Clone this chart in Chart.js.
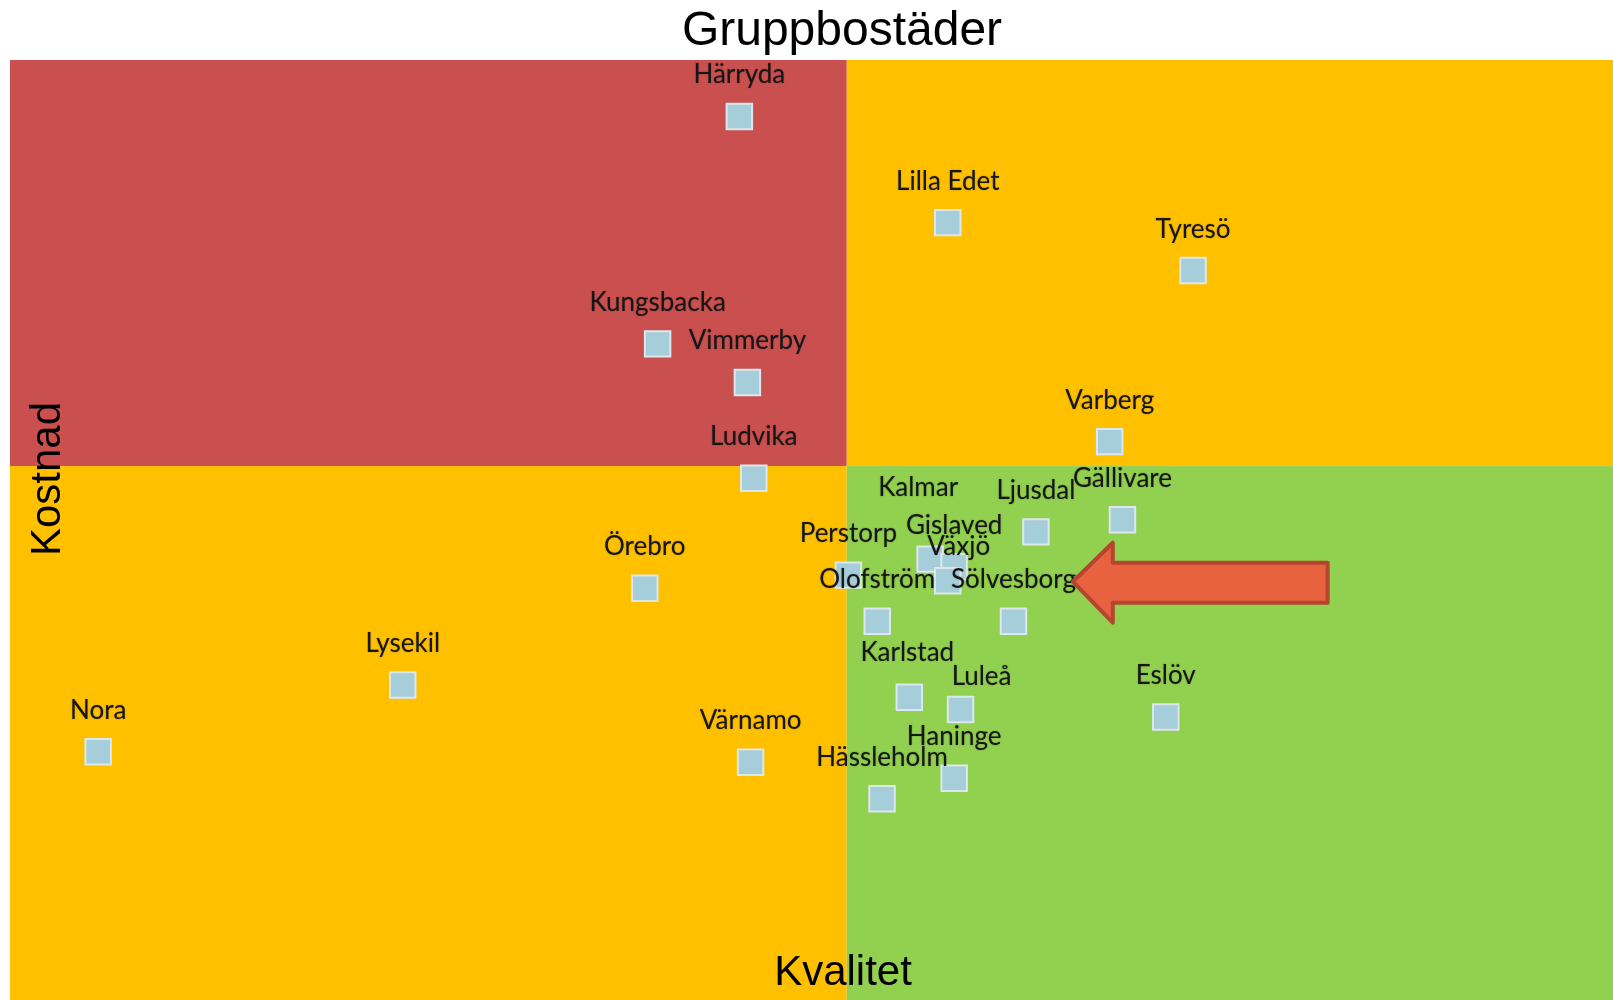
<!DOCTYPE html>
<html>
<head>
<meta charset="utf-8">
<title>Gruppbostäder</title>
<script src="https://cdn.jsdelivr.net/npm/chart.js@4.4.0/dist/chart.umd.min.js"></script>
<style>
  html, body { margin: 0; padding: 0; background: #fff; }
  #wrap { width: 1613px; height: 1000px; }
</style>
</head>
<body>
<div id="wrap"><canvas id="chart" width="1613" height="1000"></canvas></div>
<script>
  // kommuner, kvalitet (x) och kostnad (y)
  const cities = ['Härryda', 'Lilla Edet', 'Tyresö', 'Kungsbacka', 'Vimmerby', 'Varberg', 'Ludvika',
    'Gällivare', 'Ljusdal', 'Kalmar', 'Gislaved', 'Växjö', 'Perstorp', 'Olofström', 'Sölvesborg',
    'Örebro', 'Lysekil', 'Nora', 'Karlstad', 'Luleå', 'Eslöv', 'Värnamo', 'Haninge', 'Hässleholm'];
  const quality = [45.5, 58.5, 73.8, 40.4, 46.0, 68.6, 46.4,
    69.4, 64.0, 57.4, 58.9, 58.5, 52.3, 54.1, 62.6,
    39.6, 24.5, 5.5, 56.1, 59.3, 72.1, 46.2, 58.9, 54.4];
  const cost = [94.0, 82.7, 77.6, 69.8, 65.7, 59.4, 55.5,
    51.1, 49.8, 46.9, 46.1, 44.6, 45.2, 40.3, 40.3,
    43.8, 33.5, 26.4, 32.2, 30.9, 30.1, 25.3, 23.6, 21.4];

  // where the quadrants meet
  const qualityMid = 52.2;
  const costMid = 56.8;

  // arrow pointing at Sölvesborg (tip and tail in data units)
  const arrowTip = { x: 66.3, y: 44.5 };
  const arrowTailX = 82.2;

  // a few labels were nudged by hand in the crowded middle
  const labelShift = {
    'Kalmar': [-12, -30],
    'Växjö': [11, 7],
    'Luleå': [21, 8],
    'Karlstad': [-2, -3]
  };

  const quadrantPlugin = {
    id: 'quadrants',
    beforeDatasetsDraw(chart) {
      const { ctx, chartArea: a, scales: { x, y } } = chart;
      const mx = x.getPixelForValue(qualityMid);
      const my = y.getPixelForValue(costMid);
      ctx.save();
      ctx.fillStyle = '#C9504F';
      ctx.fillRect(a.left, a.top, mx - a.left, my - a.top);
      ctx.fillStyle = '#FFC000';
      ctx.fillRect(mx, a.top, a.right - mx, my - a.top);
      ctx.fillRect(a.left, my, mx - a.left, a.bottom - my);
      ctx.fillStyle = '#92D050';
      ctx.fillRect(mx, my, a.right - mx, a.bottom - my);
      ctx.restore();
    }
  };

  const labelPlugin = {
    id: 'cityLabels',
    afterDatasetsDraw(chart) {
      const { ctx } = chart;
      const meta = chart.getDatasetMeta(0);
      ctx.save();
      ctx.font = '26px Lato';
      ctx.fillStyle = '#161616';
      ctx.textAlign = 'center';
      ctx.textBaseline = 'alphabetic';
      ctx.shadowColor = 'rgba(0,0,0,0.35)';
      ctx.shadowBlur = 1.5;
      meta.data.forEach((pt, i) => {
        const s = labelShift[cities[i]] || [0, 0];
        ctx.fillText(cities[i], pt.x + s[0], pt.y - 33 + s[1]);
      });
      ctx.shadowBlur = 0;
      ctx.shadowColor = 'transparent';

      // arrow
      const { x, y } = chart.scales;
      const tx = x.getPixelForValue(arrowTip.x);
      const ty = y.getPixelForValue(arrowTip.y);
      const ex = x.getPixelForValue(arrowTailX);
      const hx = tx + 40;
      ctx.beginPath();
      ctx.moveTo(tx, ty);
      ctx.lineTo(hx, ty - 39);
      ctx.lineTo(hx, ty - 19);
      ctx.lineTo(ex, ty - 19);
      ctx.lineTo(ex, ty + 21);
      ctx.lineTo(hx, ty + 21);
      ctx.lineTo(hx, ty + 41);
      ctx.closePath();
      ctx.fillStyle = '#E9623F';
      ctx.fill();
      ctx.lineWidth = 4;
      ctx.lineJoin = 'round';
      ctx.strokeStyle = '#B4452F';
      ctx.stroke();

      // headings
      ctx.fillStyle = '#000';
      ctx.font = '48px "Liberation Sans", Arial, sans-serif';
      ctx.fillText('Gruppbostäder', 842, 45);
      ctx.font = '42px "Liberation Sans", Arial, sans-serif';
      ctx.fillText('Kvalitet', 843, 985);
      ctx.translate(60, 479);
      ctx.rotate(-Math.PI / 2);
      ctx.fillText('Kostnad', 0, 0);
      ctx.restore();
    }
  };

  const points = quality.map((q, i) => ({ x: q, y: cost[i] }));

  new Chart(document.getElementById('chart'), {
    type: 'scatter',
    data: {
      datasets: [{
        data: points,
        pointStyle: 'rect',
        pointRadius: 18,
        pointHoverRadius: 18,
        pointBackgroundColor: '#A6CDDA',
        pointBorderColor: '#DCE8EC',
        pointBorderWidth: 2
      }]
    },
    options: {
      responsive: false,
      animation: false,
      events: [],
      layout: { autoPadding: false, padding: { left: 10, top: 60, right: 0, bottom: 0 } },
      plugins: {
        legend: { display: false },
        tooltip: { enabled: false }
      },
      scales: {
        x: { type: 'linear', min: 0, max: 100, display: false },
        y: { type: 'linear', min: 0, max: 100, display: false }
      }
    },
    plugins: [quadrantPlugin, labelPlugin]
  });
</script>
</body>
</html>
